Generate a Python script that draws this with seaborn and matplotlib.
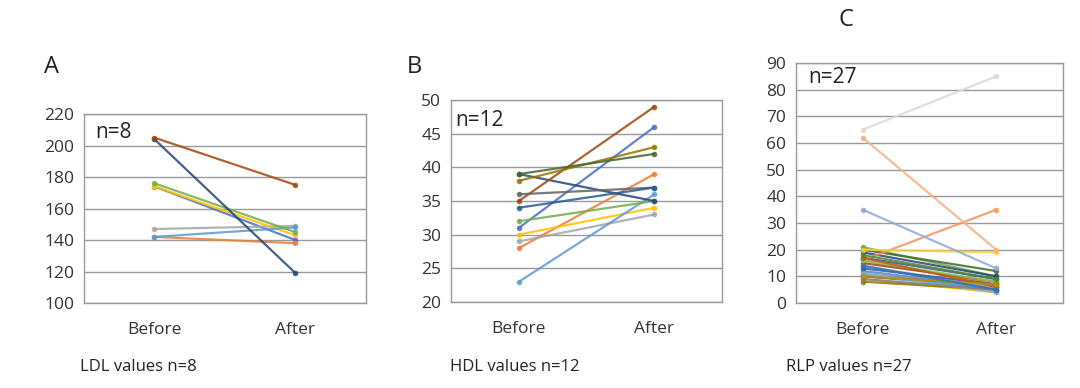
import matplotlib
matplotlib.use("Agg")
import matplotlib.pyplot as plt
import seaborn as sns
import pandas as pd

# categories on the x axis
times = ["Before", "After"]

# Excel-style series colours
excel_colors = [
    "#4472C4", "#ED7D31", "#A5A5A5", "#FFC000", "#5B9BD5", "#70AD47",
    "#264478", "#9E480E", "#636363", "#997300", "#255E91", "#43682B",
    "#698ED0", "#F1975A", "#B7B7B7", "#FFCD33", "#7CAFDD", "#8CC168",
    "#335AA1", "#C55A11", "#7F7F7F", "#BF9000", "#2E75B6", "#548235",
    "#8FAADC", "#F4B183", "#D9D9D9",
]

# A: LDL, n=8
ldl_before = [174, 142, 147, 174, 142, 176, 204, 205]
ldl_after = [140, 138, 149, 143, 148, 145, 119, 175]

# B: HDL, n=12
hdl_before = [31, 28, 29, 30, 23, 32, 39, 35, 36, 38, 34, 39]
hdl_after = [46, 39, 33, 34, 36, 35, 35, 49, 37, 43, 37, 42]

# C: RLP, n=27
rlp_before = [10, 16, 12, 9, 11, 21, 19, 15, 10, 8, 17, 20, 12, 16,
              14, 20, 11, 16, 13, 17, 9, 10, 14, 18, 35, 62, 65]
rlp_after = [6, 7, 5, 4, 5, 10, 10, 8, 7, 5, 9, 12, 6, 35,
             6, 19, 4, 8, 7, 6, 5, 7, 5, 9, 13, 20, 85]


def long_table(before, after):
    rows = []
    for i, (b, a) in enumerate(zip(before, after)):
        rows.append({"id": i, "time": times[0], "value": b})
        rows.append({"id": i, "time": times[1], "value": a})
    return pd.DataFrame(rows)


sns.set_style("white")
plt.rcParams["font.family"] = ["Open Sans", "DejaVu Sans"]

fig = plt.figure(figsize=(10.8, 3.88), dpi=100)

panels = [
    # before, after, ylim, step, rect, letter, letter pos, n text, n pos, caption, caption x
    (ldl_before, ldl_after, (100, 220), 20, [0.0778, 0.219, 0.261, 0.487],
     "A", (0.041, 0.827), "n=8", (0.04, 0.905), "LDL values n=8", 0.074),
    (hdl_before, hdl_after, (20, 50), 5, [0.4176, 0.2216, 0.251, 0.5206],
     "B", (0.377, 0.827), "n=12", (0.015, 0.90), "HDL values n=12", 0.417),
    (rlp_before, rlp_after, (0, 90), 10, [0.737, 0.219, 0.2472, 0.6186],
     "C", (0.776, 0.948), "n=27", (0.045, 0.94), "RLP values n=27", 0.728),
]

for before, after, ylim, step, rect, letter, lpos, ntext, npos, caption, cx in panels:
    ax = fig.add_axes(rect)
    df = long_table(before, after)
    pal = excel_colors[:len(before)]
    sns.lineplot(data=df, x="time", y="value", hue="id", palette=pal,
                 marker="o", markersize=4, markeredgewidth=0, linewidth=1.6,
                 sort=False, legend=False, alpha=0.85, ax=ax)
    ax.set_xlim(-0.5, 1.5)
    ax.set_ylim(*ylim)
    ax.set_yticks(range(ylim[0], ylim[1] + 1, step))
    ax.yaxis.grid(True, color="#9A9A9A", linewidth=1.0)
    ax.set_axisbelow(True)
    for s in ax.spines.values():
        s.set_color("#9A9A9A")
        s.set_linewidth(1.0)
    ax.tick_params(axis="both", length=0, labelsize=12.5, colors="#333333")
    ax.tick_params(axis="x", pad=14)
    ax.tick_params(axis="y", pad=7)
    ax.set_xlabel("")
    ax.set_ylabel("")
    ax.text(npos[0], npos[1], ntext, transform=ax.transAxes, ha="left",
            va="center", fontsize=15, color="#222222")
    fig.text(lpos[0], lpos[1], letter, ha="left", va="center", fontsize=17,
             color="#222222")
    fig.text(cx, 0.054, caption, ha="left", va="center", fontsize=12,
             color="#222222")

fig.savefig("out.png", dpi=100, facecolor="white")
